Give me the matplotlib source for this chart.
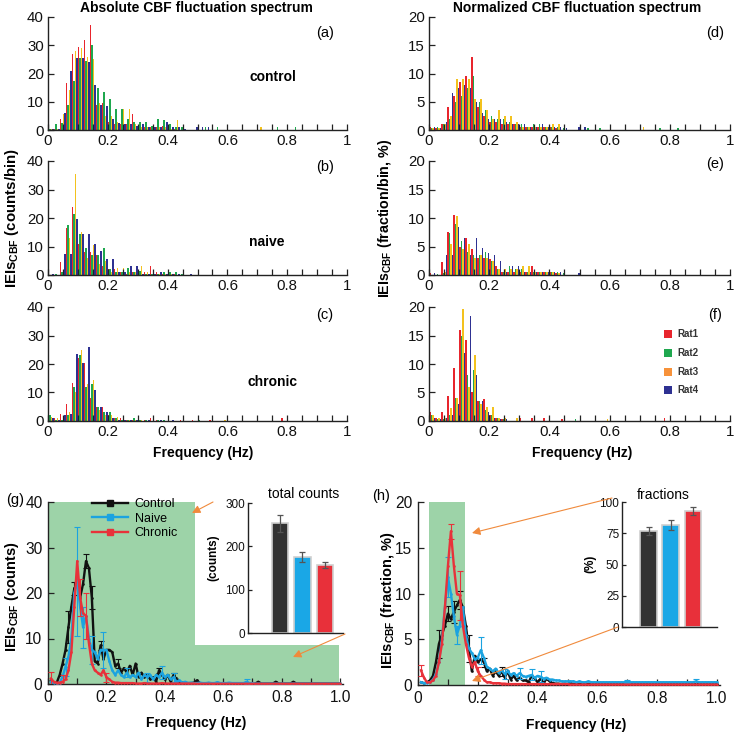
import numpy as np
import matplotlib
matplotlib.use('Agg')
import matplotlib.pyplot as plt
from matplotlib.patches import Rectangle
from matplotlib.lines import Line2D
from matplotlib.ticker import MultipleLocator

plt.rcParams['font.family'] = ['Liberation Sans', 'DejaVu Sans']
plt.rcParams['mathtext.fontset'] = 'custom'
plt.rcParams['mathtext.rm'] = 'Liberation Sans'
plt.rcParams['mathtext.bf'] = 'Liberation Sans:bold'
plt.rcParams['mathtext.it'] = 'Liberation Sans:italic'

# ---------------- data: per-rat histograms (bin centres 0.01 ... 0.99, step 0.02) ----------------
hist_centers = np.round(np.arange(0.01, 1.0, 0.02), 3)
rat_labels = ['Rat1', 'Rat2', 'Rat3', 'Rat4']
Z25 = [0] * 25

# (a) control, counts/bin
a_rat1 = [1, 0.5, 4, 16.5, 27, 29.5, 32, 37, 9, 9.5, 3, 2, 2, 2, 5.5, 1.5, 1, 1, 1, 1.5, 1, 0.5, 0, 0, 0] + Z25
a_rat2 = [0.5, 2, 2.5, 9, 17.5, 25.5, 24.5, 30, 15, 13.5, 11, 7.5, 7.5, 4, 3, 3, 3, 1.5, 4, 3.5, 2, 1, 1, 0, 0] + \
         [0, 1, 0, 1, 0, 0, 0, 0, 0, 0, 0, 0, 0, 1, 0, 0, 1, 0, 0, 0, 0, 0, 0, 0, 0]
a_rat3 = [0.5, 0.5, 5.5, 14, 28, 29, 26, 25, 9.5, 5, 5, 3, 7.5, 7.5, 2, 1, 1, 0.5, 1, 1, 0.5, 3.5, 0.5, 0, 0] + \
         [0, 0, 0, 0, 0, 0, 0, 0, 0, 0, 1, 0, 0, 0, 0, 0, 0, 0, 0, 0, 0, 0, 0, 0, 0]
a_rat4 = [0.5, 0.5, 6, 21, 25.5, 25.5, 24, 16, 9, 8.5, 4, 2.5, 2, 2, 1.5, 2, 1, 1, 1, 3, 1, 1, 0.5, 0, 1] + \
         [1, 1, 0, 0, 0, 0, 0, 0, 0, 0, 0, 0, 0, 0, 0, 0, 0, 0, 0, 0, 0, 0, 0, 0, 0]

# (b) naive, counts/bin
b_rat1 = [0.5, 0, 4.5, 16.5, 24, 11, 8, 8, 7, 3, 2, 2, 1, 0.5, 1, 0.5, 1, 3, 1, 0.5, 1, 0.5, 0, 0, 0] + Z25
b_rat2 = [0, 0.5, 1, 17.5, 21.5, 14.5, 9.5, 7, 7, 9.5, 2, 1, 1, 2.5, 1, 1.5, 0.5, 0.5, 0.5, 1, 1, 1, 0.5, 0, 0] + Z25
b_rat3 = [0, 0, 1, 13, 35.5, 15, 6, 10.5, 4, 5, 1, 2.5, 2.5, 1, 1, 3, 1, 1, 0.5, 0.5, 0.5, 0, 0, 0, 0] + Z25
b_rat4 = [0.5, 0, 7.5, 7.5, 19.5, 14.5, 14.5, 11, 8.5, 5.5, 5.5, 1, 1, 3, 3, 0.5, 0.5, 0.5, 1, 0.5, 0.5, 0.5, 0, 0.5, 0] + Z25

# (c) chronic, counts/bin
c_rat1 = [2.5, 1, 2.5, 6, 13.5, 22, 20.5, 8, 5, 5, 2, 1, 1, 0.5, 0.5, 1, 0.5, 1, 0.5, 0, 0.5, 0, 0.5, 0, 0.5] + \
         [0, 0, 0.5, 0, 0, 0, 0, 0, 0, 0, 0, 0, 0, 0, 1, 0, 0, 0, 0, 0, 0, 0, 0, 0, 0]
c_rat2 = [2, 0.5, 0.5, 2, 12, 23, 12, 13, 5, 3, 3, 1, 0.5, 0.5, 1, 0.5, 0.5, 0, 0.5, 0.5, 0, 0, 0, 0, 0] + \
         [0.5, 0, 0, 0, 0, 0, 0, 0, 0, 0, 0, 0, 0, 0, 0, 0, 0, 0, 0, 0, 0, 0, 0, 0, 0]
c_rat3 = [1.5, 1, 1, 3, 10, 25, 13, 14.5, 4, 2, 2, 1.5, 1, 0.5, 0.5, 0.5, 0, 0.5, 0, 0, 0, 0, 0, 0, 0] + \
         [0, 0, 0, 0, 0.5, 0, 0, 0, 0, 0, 0, 0, 0, 0, 0, 0, 0, 0, 0, 0, 0, 0, 0, 0, 0]
c_rat4 = [1, 0.5, 2, 2.5, 23.5, 20.5, 26, 11, 5, 3, 1, 0.5, 0.5, 0.5, 0.5, 0, 0.5, 0, 0.5, 0, 0.5, 0, 0, 0, 0] + Z25

# (d) control, fraction/bin %
d_rat1 = [0.5, 0.3, 1, 4, 6, 8.5, 9.5, 13, 4, 2.5, 1.5, 1.5, 1, 1, 1, 0.5, 0.5, 0.5, 0.5, 0.5, 0.5, 0.3, 0, 0, 0] + Z25
d_rat2 = [0.3, 0.5, 1, 2, 5, 6, 7.5, 9.5, 5, 3.5, 2.5, 2, 2, 1.5, 1, 1, 0.5, 1, 1, 0.5, 0.5, 0.5, 0.3, 0, 0] + \
         [0, 0.3, 0, 0.3, 0, 0, 0, 0, 0, 0, 0, 0, 0, 0.3, 0, 0, 0.3, 0, 0, 0, 0, 0, 0, 0, 0]
d_rat3 = [0.3, 0.3, 1, 2.5, 9, 9, 9, 5.5, 5.5, 3.5, 2, 3.5, 2.5, 2.5, 1.5, 0.5, 0.5, 0.5, 0.5, 0.5, 1, 1, 0, 0, 0] + \
         [0, 0, 0, 0, 0, 0, 0, 0, 0, 0, 0.5, 0, 0, 0, 0, 0, 0, 0, 0, 0, 0, 0, 0, 0, 0]
d_rat4 = [0.5, 0.3, 1.5, 6.5, 7.5, 8, 7.5, 5, 3, 2, 2, 2, 1.5, 1, 1, 1, 0.5, 0.5, 1, 0.5, 0.5, 0.5, 0.3, 0, 0.5] + \
         [0.5, 0, 0, 0, 0, 0, 0, 0, 0, 0, 0, 0, 0, 0, 0, 0, 0, 0, 0, 0, 0, 0, 0, 0, 0]

# (e) naive, fraction/bin %
e_rat1 = [0.3, 0, 2.3, 7.5, 10.5, 5, 6.5, 4.5, 3, 3, 2.8, 1.5, 0.5, 0.5, 0.5, 0.5, 0.5, 1.5, 0.5, 0.5, 0.5, 0.3, 0, 0, 0] + Z25
e_rat2 = [0, 0.2, 0.3, 7.3, 9, 6, 4, 3.5, 3.5, 4, 2.5, 1, 0.5, 1.5, 1, 1, 0.5, 0.5, 0.5, 0.5, 0.5, 0.5, 0.3, 0, 0] + Z25
e_rat3 = [0, 0, 0.5, 5.5, 10.3, 4.5, 5.5, 3, 3.5, 3, 2.5, 1, 1, 1, 1, 1.5, 1.5, 0.5, 0.5, 0.5, 0.5, 0.3, 0, 0, 0] + Z25
e_rat4 = [0.3, 0, 3.5, 3.5, 8.5, 6.5, 3.5, 6.5, 4.8, 3.8, 3.5, 2.5, 0.5, 1.5, 1.5, 0.5, 0.5, 0.5, 0.5, 0.5, 0.5, 0.5, 0, 0, 0.3] + Z25

# (f) chronic, fraction/bin %
f_rat1 = [1.5, 0.5, 1.5, 4.3, 9.3, 16, 14.2, 5, 3.5, 3.8, 1, 0.5, 0.3, 0, 0, 0.5, 0, 0.5, 0, 0.5, 0, 0, 0.3, 0, 0] + \
         [0.3, 0, 0, 0, 0, 0, 0, 0, 0, 0, 0, 0, 0, 0, 0.5, 0, 0, 0, 0, 0, 0, 0, 0, 0, 0]
f_rat2 = [1, 0.3, 0.3, 1, 4, 15, 8, 9, 3.5, 2, 1, 0.5, 0.3, 0, 0, 0, 0, 0, 0, 0, 0, 0, 0, 0, 0.3] + Z25
f_rat3 = [1, 0.5, 0.5, 2.3, 4, 19.6, 6, 11.5, 3, 2.5, 2.5, 0.5, 0.5, 0, 0.5, 0, 0, 0, 0, 0, 0, 0, 0, 0, 0] + \
         [0, 0, 0, 0, 0.3, 0, 0, 0, 0, 0, 0, 0, 0, 0, 0, 0, 0, 0, 0, 0, 0, 0, 0, 0, 0]
f_rat4 = [0.5, 0.3, 0.5, 1, 3, 12, 18.4, 8, 3.5, 1.5, 0.5, 0.3, 0.3, 0, 0, 0, 0, 0, 0, 0, 0, 0, 0, 0, 0] + Z25

# ---------------- data: group-averaged spectra (0.01 ... 1.00 Hz) ----------------
freq = np.round(np.arange(1, 101) * 0.01, 2)
group_labels = ['Control', 'Naive', 'Chronic']

g_control = [0.7, 0.2, 0.3, 2, 4.5, 7.5, 12.5, 17, 21, 22,
             19, 22, 27, 25.5, 19, 5, 4.5, 8.5, 5.5, 7.5,
             7.5, 7, 4, 4.5, 2.5, 3.5, 2.5, 4, 2, 4.5,
             1.5, 2.5, 1.5, 2, 1, 1.5, 0.5, 3, 2, 1,
             2, 0.5, 2, 1, 0.3, 0.3, 0.2, 0.2, 0.2, 0.3,
             0.8, 0.2, 0.1, 0.1, 0.2, 0.1, 0.1, 0.2, 0.1, 0.1,
             0.1, 0.1, 0.1, 0.1, 0.1, 0.1, 0.1, 0.1, 0.1, 0.1,
             0.1, 0.5, 0.1, 0.1, 0.1, 0.1, 0.1, 0.5, 0.1, 0.1,
             0.1, 0.1, 0.1, 0.5, 0.1, 0.1, 0.1, 0.1, 0.1, 0.1,
             0.1, 0.1, 0.1, 0.1, 0.1, 0.1, 0.1, 0.1, 0.1, 0.1]
g_naive = [0.5, 0.2, 0.1, 0.3, 1.6, 3.8, 6, 10, 20, 22.5,
           17, 12.5, 15, 10, 7.5, 7, 5.5, 7.5, 7.5, 7.5,
           5, 3, 2, 3, 2, 1.5, 2.5, 1.5, 2, 1.5,
           2.5, 1, 2, 1.5, 2, 1, 2, 1.5, 2.5, 1.5,
           2, 1, 1.5, 0.5, 0.8, 0.3, 0.5, 0.2, 0.3, 0.2,
           0.2, 0.3, 0.2, 0.2, 0.3, 0.2, 0.2, 0.4, 0.2, 0.2,
           0.2, 0.3, 0.2, 0.2, 0.2, 0.2, 0.2, 0.5, 0.2, 0.2,
           0.1, 0.1, 0.1, 0.1, 0.1, 0.1, 0.1, 0.1, 0.1, 0.1,
           0.1, 0.1, 0.1, 0.1, 0.1, 0.1, 0.1, 0.1, 0.1, 0.1,
           0.1, 0.1, 0.1, 0.1, 0.1, 0.1, 0.1, 0.1, 0.1, 0.1]
g_chronic = [1.2, 0.5, 0.3, 0.3, 0.5, 1, 3, 7, 17, 27,
             19, 15.5, 15, 9, 4.5, 3, 2.5, 2, 3, 1.5,
             1, 0.5, 0.3, 0.3, 0.2, 0.2, 0.2, 0.2, 0.2, 0.1,
             0.1, 0.1, 0.2, 0.1, 0.1, 0.1, 0.1, 0.1, 0.2, 0.1,
             0.1, 0.1, 0.1, 0.1, 0.1, 0.1, 0.1, 0.1, 0.1, 0.1,
             0.05, 0.05, 0.05, 0.05, 0.05, 0.05, 0.05, 0.05, 0.05, 0.05,
             0.05, 0.05, 0.05, 0.05, 0.05, 0.05, 0.05, 0.05, 0.05, 0.05,
             0.05, 0.05, 0.05, 0.05, 0.05, 0.05, 0.05, 0.05, 0.05, 0.05,
             0.05, 0.05, 0.05, 0.05, 0.05, 0.05, 0.05, 0.05, 0.05, 0.05,
             0.05, 0.05, 0.05, 0.05, 0.05, 0.05, 0.05, 0.05, 0.05, 0.05]

h_control = [0.3, 0.2, 0.3, 0.5, 1.0, 2.5, 4.5, 5.5, 6.5, 7.8,
             7.2, 8, 8.7, 9.3, 8.5, 6.5, 4, 1.5, 3.2, 2.5,
             2.8, 2.5, 1.5, 1.8, 1, 1.5, 1, 1.5, 0.8, 1.5,
             0.6, 1, 0.5, 0.8, 0.5, 0.5, 0.3, 1, 0.7, 0.3,
             0.7, 0.2, 0.7, 0.4, 0.2, 0.15, 0.15, 0.1, 0.15, 0.1,
             0.2, 0.1, 0.1, 0.1, 0.1, 0.1, 0.1, 0.1, 0.1, 0.1,
             0.1, 0.1, 0.1, 0.1, 0.1, 0.1, 0.1, 0.1, 0.2, 0.1,
             0.1, 0.1, 0.1, 0.2, 0.1, 0.1, 0.1, 0.1, 0.1, 0.1,
             0.1, 0.1, 0.1, 0.1, 0.1, 0.1, 0.1, 0.1, 0.1, 0.1,
             0.1, 0.1, 0.1, 0.1, 0.1, 0.1, 0.1, 0.1, 0.1, 0.1]
h_naive = [0.3, 0.2, 0.2, 0.3, 0.6, 1.2, 2.5, 5, 8.5, 11.8,
           10, 7.5, 5.5, 6.5, 8.5, 5.5, 4, 3.5, 2.8, 3,
           3.8, 3, 2, 1.8, 1.5, 1.8, 1.3, 1.6, 1.2, 1.5,
           1.1, 1.3, 1, 1.3, 1, 0.9, 1, 1.1, 0.8, 1,
           0.9, 0.7, 0.8, 0.6, 0.6, 0.5, 0.5, 0.4, 0.4, 0.4,
           0.4, 0.4, 0.3, 0.4, 0.3, 0.3, 0.4, 0.3, 0.3, 0.3,
           0.3, 0.3, 0.3, 0.3, 0.3, 0.3, 0.3, 0.3, 0.3, 0.4,
           0.3, 0.3, 0.3, 0.3, 0.3, 0.3, 0.3, 0.3, 0.3, 0.3,
           0.3, 0.3, 0.3, 0.3, 0.3, 0.3, 0.3, 0.3, 0.3, 0.3,
           0.3, 0.3, 0.4, 0.3, 0.3, 0.3, 0.3, 0.3, 0.3, 0.3]
h_chronic = [1.6, 0.8, 0.3, 0.3, 0.5, 1, 2.5, 4.5, 8.5, 13,
             16.8, 13, 10, 9.8, 6.5, 4.5, 3, 2, 2.5, 1.5,
             1, 0.6, 0.3, 0.3, 0.2, 0.2, 0.2, 0.15, 0.15, 0.1,
             0.1, 0.1, 0.1, 0.1, 0.1, 0.1, 0.1, 0.1, 0.1, 0.1,
             0.1, 0.1, 0.1, 0.1, 0.1, 0.1, 0.1, 0.1, 0.1, 0.1,
             0.05, 0.05, 0.05, 0.05, 0.05, 0.05, 0.05, 0.05, 0.05, 0.05,
             0.05, 0.05, 0.05, 0.05, 0.05, 0.05, 0.05, 0.05, 0.05, 0.05,
             0.05, 0.05, 0.05, 0.05, 0.05, 0.05, 0.05, 0.05, 0.05, 0.05,
             0.05, 0.05, 0.05, 0.05, 0.05, 0.05, 0.05, 0.05, 0.05, 0.05,
             0.05, 0.05, 0.05, 0.05, 0.05, 0.05, 0.05, 0.05, 0.05, 0.05]

# error bars (frequency, sem)
g_control_ef = [0.07, 0.09, 0.13, 0.15, 0.18, 0.24, 0.38, 0.43]
g_control_err = [3.5, 1.5, 1.5, 2.5, 1.0, 1.0, 0.5, 0.5]
g_naive_ef = [0.06, 0.10, 0.12, 0.15, 0.19, 0.27, 0.34, 0.39, 0.43, 0.68]
g_naive_err = [2, 12, 4.5, 3, 4, 1, 1, 1.5, 1, 0.5]
g_chronic_ef = [0.01, 0.05, 0.11, 0.13, 0.20]
g_chronic_err = [1.5, 1.5, 4, 5, 1]
h_control_ef = [0.07, 0.10, 0.12, 0.14, 0.17, 0.22, 0.28]
h_control_err = [1.5, 0.8, 1.2, 1.0, 1.5, 0.5, 0.5]
h_naive_ef = [0.10, 0.13, 0.21, 0.29, 0.34, 0.38, 0.41, 0.70, 0.93]
h_naive_err = [2.2, 1.0, 1.5, 0.5, 0.6, 0.6, 0.6, 0.2, 0.3]
h_chronic_ef = [0.01, 0.11, 0.14, 0.20]
h_chronic_err = [0.6, 0.8, 2.7, 0.5]

# inset bars
total_counts = [253, 175, 158]
total_counts_err = [20, 12, 7]
band_fractions = [77, 82, 93]
band_fractions_err = [3, 4, 3]

# ---------------- styles ----------------
bar_colors = ['#e8252d', '#1fa84f', '#f3c21e', '#2e3192']
legend_colors = ['#e8252d', '#1fa84f', '#f7923a', '#2e3192']
grp_colors = ['#111111', '#1ba3e0', '#e8323a']
inset_colors = ['#333333', '#1aa7e6', '#e8303a']
green = '#9dd3a8'
arrow_col = '#f08a3c'

W = 735.0
fig = plt.figure(figsize=(7.35, 7.35), dpi=100)
fig.patch.set_facecolor('white')


def box(l, t, r, b):
    return [l / W, 1 - b / W, (r - l) / W, (b - t) / W]


def ftext(x, y, s, **kw):
    kw.setdefault('ha', 'center')
    kw.setdefault('va', 'center')
    fig.text(x / W, 1 - y / W, s, **kw)


def style_axes(ax, length=4):
    for s in ['top', 'right']:
        ax.spines[s].set_visible(False)
    for s in ['left', 'bottom']:
        ax.spines[s].set_linewidth(1.0)
        ax.spines[s].set_color('#222222')
    ax.tick_params(which='both', direction='in', length=length, width=0.9,
                   colors='#222222', labelcolor='#111111')


def hist_panel(bx, rats, ymax, ystep):
    ax = fig.add_axes(box(*bx))
    bw = 0.005
    for k, vals in enumerate(rats):
        ax.bar(hist_centers + (k - 1.5) * bw, vals, width=bw,
               color=bar_colors[k], linewidth=0)
    ax.set_xlim(0, 1)
    ax.set_ylim(0, ymax)
    ax.set_xticks([0, 0.2, 0.4, 0.6, 0.8, 1.0])
    ax.set_xticklabels(['0', '0.2', '0.4', '0.6', '0.8', '1'])
    ax.xaxis.set_minor_locator(MultipleLocator(0.05))
    yt = np.arange(0, ymax + 0.01, ystep)
    ax.set_yticks(yt)
    ax.set_yticklabels([f'{int(v)}' for v in yt])
    style_axes(ax)
    ax.tick_params(labelsize=10.8, pad=3)
    return ax


hist_panel((48, 17, 347, 130), [a_rat1, a_rat2, a_rat3, a_rat4], 40, 10)
hist_panel((48, 161, 347, 275), [b_rat1, b_rat2, b_rat3, b_rat4], 40, 10)
hist_panel((48, 307, 347, 421), [c_rat1, c_rat2, c_rat3, c_rat4], 40, 10)
hist_panel((429, 17, 730, 130), [d_rat1, d_rat2, d_rat3, d_rat4], 20, 5)
hist_panel((429, 161, 730, 275), [e_rat1, e_rat2, e_rat3, e_rat4], 20, 5)
ax_f = hist_panel((429, 307, 730, 421), [f_rat1, f_rat2, f_rat3, f_rat4], 20, 5)


def line_panel(bx, series, efs, errs, ymax, ystep):
    ax = fig.add_axes(box(*bx))
    for k, vals in enumerate(series):
        ax.plot(freq, vals, color=grp_colors[k], lw=1.7, marker='s', ms=0.8,
                zorder=3 + k, label=group_labels[k])
        ev = np.interp(efs[k], freq, vals)
        ax.errorbar(efs[k], ev, yerr=errs[k], fmt='none', ecolor=grp_colors[k],
                    elinewidth=0.8, capsize=2.5, capthick=0.8, zorder=3 + k)
    ax.set_xlim(0, 1.01)
    ax.set_ylim(0, ymax)
    ax.set_xticks([0, 0.2, 0.4, 0.6, 0.8, 1.0])
    ax.set_xticklabels(['0', '0.2', '0.4', '0.6', '0.8', '1.0'])
    ax.xaxis.set_minor_locator(MultipleLocator(0.1))
    yt = np.arange(0, ymax + 0.01, ystep)
    ax.set_yticks(yt)
    ax.set_yticklabels([f'{int(v)}' for v in yt])
    style_axes(ax)
    ax.tick_params(labelsize=11.2, pad=4)
    return ax


ax_g = line_panel((48, 502, 343, 684), [g_control, g_naive, g_chronic],
                  [g_control_ef, g_naive_ef, g_chronic_ef],
                  [g_control_err, g_naive_err, g_chronic_err], 40, 10)
ax_g.add_patch(Rectangle((0, 0), 0.503, 40, facecolor=green, lw=0, zorder=0))
ax_g.add_patch(Rectangle((0.503, 0), 0.494, 8.6, facecolor=green, lw=0, zorder=0))

ax_h = line_panel((418, 502, 720, 685), [h_control, h_naive, h_chronic],
                  [h_control_ef, h_naive_ef, h_chronic_ef],
                  [h_control_err, h_naive_err, h_chronic_err], 20, 5)
ax_h.add_patch(Rectangle((0.037, 0), 0.12, 20, facecolor=green, lw=0, zorder=0))

handles = [Line2D([], [], color=grp_colors[k], lw=1.7, marker='s', ms=4) for k in range(3)]
ax_g.legend(handles, group_labels, loc='upper left', bbox_to_anchor=(92 / W, 1 - 498 / W),
            bbox_transform=fig.transFigure, frameon=False, fontsize=9,
            handlelength=2.9, handletextpad=0.5, labelspacing=0.22,
            borderaxespad=0, borderpad=0)


def inset(bx, vals, errs, ymax, ystep, xl):
    ax = fig.add_axes(box(*bx))
    ax.bar([1, 2, 3], vals, width=0.74, color=inset_colors, edgecolor='#d0d0d0',
           linewidth=1.2, yerr=errs,
           error_kw=dict(ecolor='#555555', elinewidth=0.9, capsize=2.5, capthick=0.9))
    ax.set_xlim(*xl)
    ax.set_ylim(0, ymax)
    ax.set_xticks([])
    yt = np.arange(0, ymax + 0.01, ystep)
    ax.set_yticks(yt)
    ax.set_yticklabels([f'{int(v)}' for v in yt])
    style_axes(ax, length=3)
    ax.tick_params(labelsize=8.5, pad=2)
    return ax


inset((248, 503, 343, 633), total_counts, total_counts_err, 300, 100, (-0.42, 3.8))
inset((622, 502, 717, 627), band_fractions, band_fractions_err, 100, 25, (-0.2, 4.1))

# ---------------- texts ----------------
ftext(196, 8, 'Absolute CBF fluctuation spectrum', fontsize=10, fontweight='bold')
ftext(577, 8, 'Normalized CBF fluctuation spectrum', fontsize=10, fontweight='bold')
for s, x, y in [('(a)', 325, 33), ('(b)', 325, 167), ('(c)', 325, 315),
                ('(d)', 715, 33), ('(e)', 715, 164), ('(f)', 715, 315),
                ('(g)', 15, 500), ('(h)', 381, 496)]:
    ftext(x, y, s, fontsize=10.5)
ftext(273, 77, 'control', fontsize=10, fontweight='bold')
ftext(267, 242, 'naive', fontsize=10, fontweight='bold')
ftext(273, 382, 'chronic', fontsize=10, fontweight='bold')
ftext(203, 453, 'Frequency (Hz)', fontsize=10, fontweight='bold')
ftext(582, 453, 'Frequency (Hz)', fontsize=10, fontweight='bold')
ftext(196, 723, 'Frequency (Hz)', fontsize=10, fontweight='bold')
ftext(576, 725, 'Frequency (Hz)', fontsize=10, fontweight='bold')
ftext(12, 218, r'$\mathbf{IEIs}_{\mathbf{CBF}}$ (counts/bin)', fontsize=10.8,
      fontweight='bold', rotation=90)
ftext(385, 218, r'$\mathbf{IEIs}_{\mathbf{CBF}}$ (fraction/bin, %)', fontsize=10.3,
      fontweight='bold', rotation=90)
ftext(12, 597, r'$\mathbf{IEIs}_{\mathbf{CBF}}$ (counts)', fontsize=10.5,
      fontweight='bold', rotation=90)
ftext(388, 600, r'$\mathbf{IEIs}_{\mathbf{CBF}}$ (fraction, %)', fontsize=10.5,
      fontweight='bold', rotation=90)
ftext(304, 494, 'total counts', fontsize=10)
ftext(663, 495, 'fractions', fontsize=10)
ftext(213, 558, '(counts)', fontsize=8.5, fontweight='bold', rotation=90)
ftext(590, 564, '(%)', fontsize=8.5, fontweight='bold', rotation=90)

# ---------------- overlay: rat legend and arrows ----------------
ov = fig.add_axes([0, 0, 1, 1], facecolor='none')
ov.set_xlim(0, W)
ov.set_ylim(W, 0)
ov.axis('off')
for k, yy in enumerate([334, 353, 372, 390]):
    ov.add_patch(Rectangle((664, yy - 4), 8, 8, facecolor=legend_colors[k], lw=0))
    ov.text(677, yy, rat_labels[k], fontsize=7, fontweight='bold', va='center',
            ha='left', color='#333333')

for tail, head in [((213, 502), (192, 513)), ((345, 634), (293, 657)),
                   ((612, 498), (472, 533)), ((618, 627), (472, 681))]:
    ov.annotate('', xy=head, xytext=tail,
                arrowprops=dict(arrowstyle='-|>', color=arrow_col, lw=0.8,
                                mutation_scale=12, shrinkA=0, shrinkB=0))

fig.savefig('out.png', dpi=100)
